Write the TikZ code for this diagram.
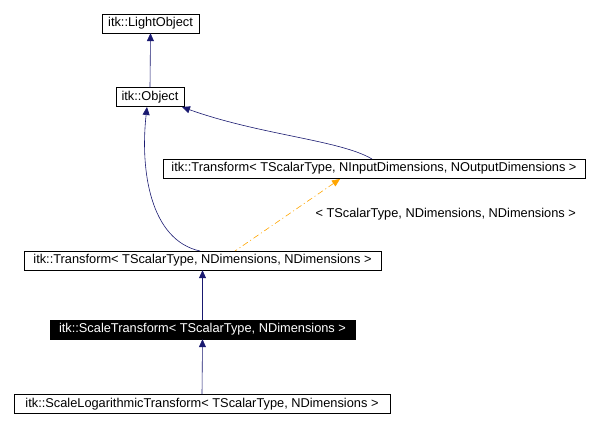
\documentclass[tikz,border=0pt]{standalone}
\usepackage{fontspec}
\setmainfont{Liberation Sans}
\usetikzlibrary{arrows.meta}
\definecolor{edgec}{HTML}{191970}
\definecolor{orangec}{HTML}{FFA500}
\begin{document}
\begin{tikzpicture}[x=1pt,y=-1pt,
 box/.style={draw,thin,inner sep=0pt,minimum height=19pt,font=\fontsize{12.8}{14}\selectfont},
 inh/.style={edgec,semithick,{Triangle[length=8pt,width=7pt]}-},
 tmpl/.style={orangec,semithick,dash pattern=on 6pt off 3pt on 1pt off 3pt,{Triangle[length=8pt,width=7pt]}-}]
\useasboundingbox (0,0) rectangle (600,427);
\node[box,minimum width=97pt] (lo) at (150.5,23.5) {itk::LightObject};
\node[box,minimum width=68pt] (ob) at (150,97) {itk::Object};
\node[box,minimum width=422pt] (ti) at (374,168.5) {itk::Transform< TScalarType, NInputDimensions, NOutputDimensions >};
\node[box,minimum width=357pt] (tn) at (202.5,260.5) {itk::Transform< TScalarType, NDimensions, NDimensions >};
\node[box,minimum width=305pt,fill=black,text=white] (st) at (202.5,329.5) {itk::ScaleTransform< TScalarType, NDimensions >};
\node[box,minimum width=376pt] (sl) at (202,404) {itk::ScaleLogarithmicTransform< TScalarType, NDimensions >};
\draw[inh] (lo.south) -- (ob.north);
\draw[inh] (182,107) .. controls (260,135) and (340,140) .. (372,159);
\draw[inh] (147,107) .. controls (140,170) and (150,240) .. (200,251);
\draw[tmpl] (340,179) -- (235,251);
\node[font=\fontsize{12.8}{14}\selectfont,anchor=west] (lbl) at (312,214) {< TScalarType, NDimensions, NDimensions >};
\draw[inh] (tn.south) -- (st.north);
\draw[inh] (st.south) -- (sl.north);
\end{tikzpicture}
\end{document}
